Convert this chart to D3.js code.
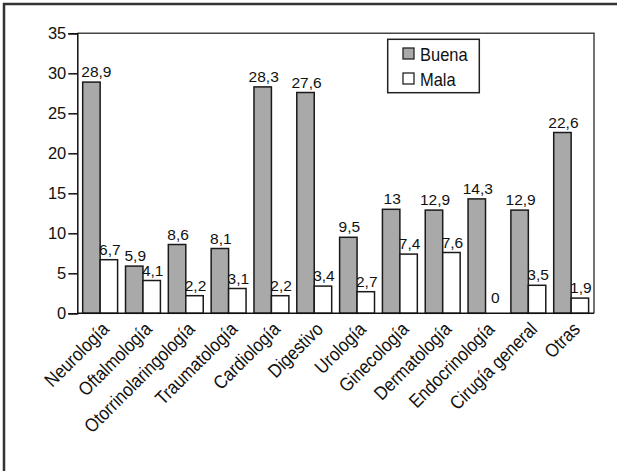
<!DOCTYPE html>
<html>
<head>
<meta charset="utf-8">
<script src="https://cdn.jsdelivr.net/npm/d3@7"></script>
<style>
  body { margin: 0; background: #fff; }
  svg text { font-family: "Liberation Sans", Arial, sans-serif; fill: #111; }
</style>
</head>
<body>
<div id="chart"></div>
<script>
let categorias = ["Neurología", "Oftalmología", "Otorrinolaringología", "Traumatología", "Cardiología",
    "Digestivo", "Urología", "Ginecología", "Dermatología", "Endocrinología", "Cirugía general", "Otras"];
let buena = [28.9, 5.9, 8.6, 8.1, 28.3, 27.6, 9.5, 13, 12.9, 14.3, 12.9, 22.6];
let mala = [6.7, 4.1, 2.2, 3.1, 2.2, 3.4, 2.7, 7.4, 7.6, 0, 3.5, 1.9];
let series = ["Buena", "Mala"];
let yTicks = [0, 5, 10, 15, 20, 25, 30, 35];

let colores = {Buena: "#a9a9a9", Mala: "#ffffff"};

let svg = d3.select("#chart")
    .append("svg")
    .attr("width", 617)
    .attr("height", 471);

// marco exterior (solo arriba e izquierda)
svg.append("path")
    .attr("d", "M4,471V4H617")
    .attr("fill", "none")
    .attr("stroke", "#333")
    .attr("stroke-width", 2.5);

let mIzq = 77.3, mDer = 594, mSup = 33.3, mInf = 313.3;

let x0 = d3.scaleBand()
    .domain(categorias)
    .range([mIzq, mDer])
    .paddingInner(0.185)
    .paddingOuter(0.126);

let x1 = d3.scaleBand()
    .domain(series)
    .range([0, x0.bandwidth()]);

let y = d3.scaleLinear()
    .domain([0, 35])
    .range([mInf, mSup]);

// marco del área
svg.append("path")
    .attr("d", "M" + mIzq + "," + mSup + "H" + mDer + "V" + mInf)
    .attr("fill", "none")
    .attr("stroke", "#444")
    .attr("stroke-width", 1.5);

let datos = categorias.map(function (c, i) {
    return {cat: c, vals: [{s: "Buena", v: buena[i]}, {s: "Mala", v: mala[i]}]};
});

let grupos = svg.selectAll(".grupo")
    .data(datos)
    .enter()
    .append("g")
    .attr("transform", d => "translate(" + x0(d.cat) + ",0)");

grupos.selectAll("rect")
    .data(d => d.vals.filter(e => e.v > 0))
    .enter()
    .append("rect")
    .attr("x", e => x1(e.s))
    .attr("y", e => y(e.v))
    .attr("width", x1.bandwidth())
    .attr("height", e => y(0) - y(e.v))
    .attr("fill", e => colores[e.s])
    .attr("stroke", "#1a1a1a")
    .attr("stroke-width", 1.5);

grupos.selectAll("text")
    .data(d => d.vals)
    .enter()
    .append("text")
    .attr("x", e => x1(e.s) + x1.bandwidth() / 2 + 1)
    .attr("y", e => e.v > 0 ? y(e.v) - 5 : y(0) - 10)
    .attr("text-anchor", "middle")
    .style("font-size", "15.5px")
    .text(e => String(e.v).replace(".", ","));

// que la etiqueta no pise el eje
grupos.selectAll("text").each(function () {
    let b = this.getBBox();
    let abs = this.getCTM().e + b.x;
    if (abs < mIzq + 4) {
        d3.select(this).attr("x", +d3.select(this).attr("x") + (mIzq + 4 - abs));
    }
});

// eje y
let yAxis = d3.axisLeft(y)
    .tickValues(yTicks)
    .tickSize(9)
    .tickPadding(2);
let gy = svg.append("g")
    .attr("transform", "translate(" + mIzq + ",0)")
    .call(yAxis);
gy.select(".domain").attr("stroke", "#111").attr("stroke-width", 1.5);
gy.selectAll(".tick line").attr("stroke", "#111").attr("stroke-width", 1.5);
gy.selectAll("text").style("font-size", "16.5px").attr("fill", "#111");

// eje x
let xAxis = d3.axisBottom(x0).tickSize(0).tickSizeOuter(0).tickPadding(0);
let gx = svg.append("g")
    .attr("transform", "translate(0," + mInf + ")")
    .call(xAxis);
gx.select(".domain").attr("d", "M" + mIzq + ",0H" + mDer).attr("stroke", "#111").attr("stroke-width", 1.5);
gx.selectAll("text")
    .style("font-size", "19px")
    .attr("fill", "#111")
    .attr("text-anchor", "end")
    .attr("dy", null)
    .attr("y", 0)
    .attr("transform", "translate(10,17) rotate(-45) scale(0.88,1)");

// leyenda
let leyenda = svg.append("g");
leyenda.append("rect")
    .attr("x", 387.7).attr("y", 39.3)
    .attr("width", 91.6).attr("height", 53.4)
    .attr("fill", "#fff")
    .attr("stroke", "#222")
    .attr("stroke-width", 1.5);
series.forEach(function (s, i) {
    leyenda.append("rect")
        .attr("x", 403).attr("y", 48 + i * 25)
        .attr("width", 11).attr("height", 11)
        .attr("fill", colores[s])
        .attr("stroke", "#222")
        .attr("stroke-width", 1.3);
    leyenda.append("text")
        .attr("transform", "translate(420," + (61 + i * 25) + ") scale(0.89,1)")
        .style("font-size", "18.5px")
        .text(s);
});
</script>
</body>
</html>
